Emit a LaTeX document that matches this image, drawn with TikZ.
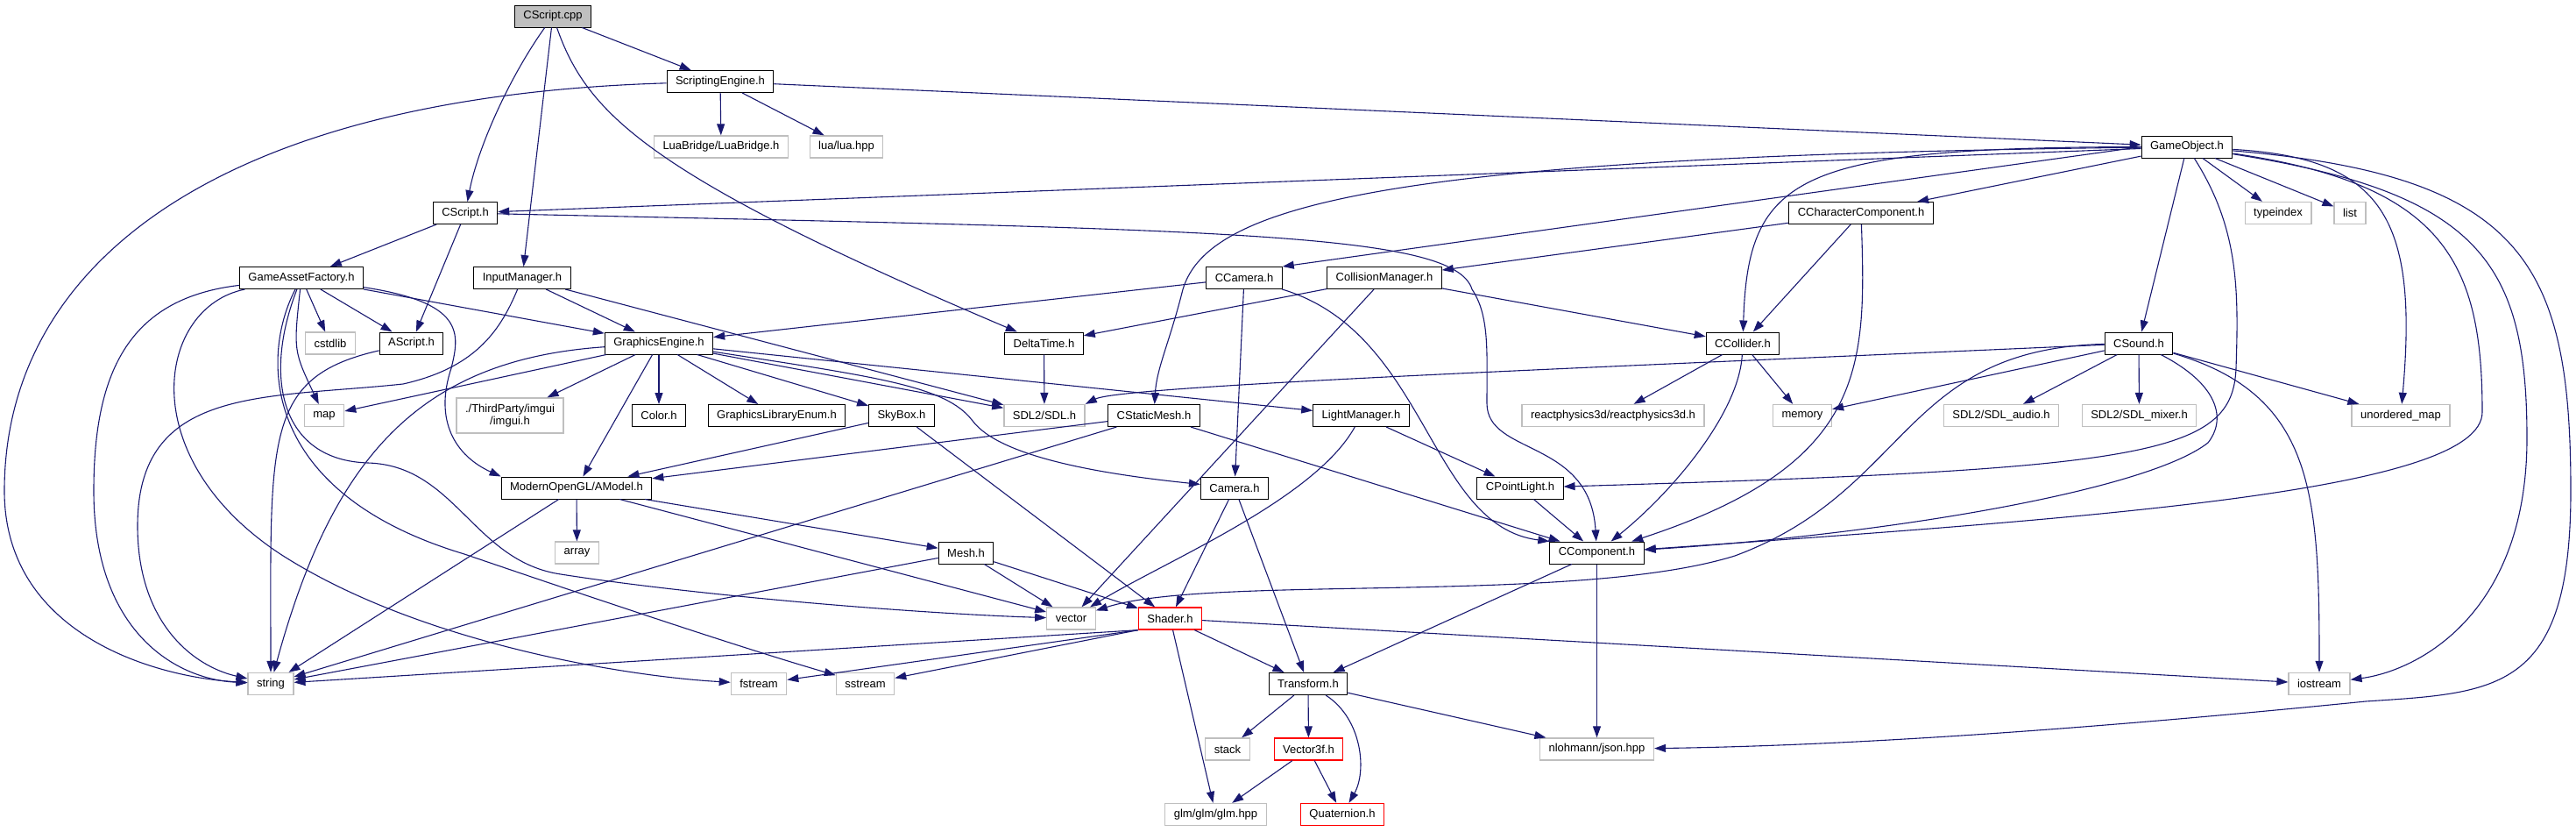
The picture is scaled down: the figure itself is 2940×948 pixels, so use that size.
\documentclass[tikz,border=0pt]{standalone}
\usepackage{fontspec}
\setmainfont{Liberation Sans}
\usetikzlibrary{arrows.meta}
\definecolor{edgeblue}{HTML}{191970}
\definecolor{extgray}{HTML}{BFBFBF}

\begin{document}
\begin{tikzpicture}[x=1pt,y=-1pt,font=\fontsize{13}{14}\selectfont,
  box/.style={draw=black,line width=1pt,minimum height=25pt,inner xsep=10pt,inner ysep=2pt,align=center},
  ext/.style={box,draw=extgray,line width=1.3pt},
  trunc/.style={box,draw=red,line width=1.3pt},
  dep/.style={draw=edgeblue,line width=1.1pt,-{Triangle[length=13pt,width=9pt]}}]
\useasboundingbox (0,0) rectangle (2940,948);
\node[box,fill=extgray] (cpp) at (631,18.5) {CScript.cpp};
\node[box] (sce) at (822,93) {ScriptingEngine.h};
\node[ext] (lbr) at (823,167.5) {LuaBridge/LuaBridge.h};
\node[ext] (lua) at (966,167.5) {lua/lua.hpp};
\node[box] (gob) at (2496,167.5) {GameObject.h};
\node[box] (csh) at (531,243) {CScript.h};
\node[box] (cch) at (2124,243) {CCharacterComponent.h};
\node[ext] (tix) at (2600,243) {typeindex};
\node[ext] (lst) at (2682,243) {list};
\node[box] (gaf) at (344,317) {GameAssetFactory.h};
\node[box] (inm) at (596,317) {InputManager.h};
\node[box] (cca) at (1420,317) {CCamera.h};
\node[box] (col) at (1580,317) {CollisionManager.h};
\node[ext] (cst) at (377,391.5) {cstdlib};
\node[box] (asc) at (469.5,391.5) {AScript.h};
\node[box] (gfx) at (752,391.5) {GraphicsEngine.h};
\node[box] (dlt) at (1191.5,391.5) {DeltaTime.h};
\node[box] (ccl) at (1989,391.5) {CCollider.h};
\node[box] (snd) at (2441,391.5) {CSound.h};
\node[ext] (map) at (370,474) {map};
\node[ext,minimum height=40pt] (img) at (582,474) {./ThirdParty/imgui\\/imgui.h};
\node[box] (clr) at (752,474) {Color.h};
\node[box] (gle) at (886.5,474) {GraphicsLibraryEnum.h};
\node[box] (sky) at (1029,474) {SkyBox.h};
\node[ext] (sdl) at (1192,474) {SDL2/SDL.h};
\node[box] (csm) at (1317,474) {CStaticMesh.h};
\node[box] (lgt) at (1553.5,474) {LightManager.h};
\node[ext] (rp3) at (1841,474) {reactphysics3d/reactphysics3d.h};
\node[ext] (mem) at (2057,474) {memory};
\node[ext] (sau) at (2284,474) {SDL2/SDL\_audio.h};
\node[ext] (smx) at (2441.5,474) {SDL2/SDL\_mixer.h};
\node[ext] (umap) at (2740,474) {unordered\_map};
\node[box] (amd) at (658,556.5) {ModernOpenGL/AModel.h};
\node[box] (cam) at (1409,556.5) {Camera.h};
\node[box] (cpl) at (1735,556.5) {CPointLight.h};
\node[ext] (arr) at (658.5,630.5) {array};
\node[box] (msh) at (1102.5,630.5) {Mesh.h};
\node[box] (ccp) at (1822.5,630.5) {CComponent.h};
\node[ext] (vec) at (1222.5,705.5) {vector};
\node[trunc] (shd) at (1335.5,705.5) {Shader.h};
\node[ext] (str) at (309,780) {string};
\node[ext] (fst) at (866,780) {fstream};
\node[ext] (sst) at (987.5,780) {sstream};
\node[box] (trf) at (1493,780) {Transform.h};
\node[ext] (ios) at (2647,780) {iostream};
\node[ext] (stk) at (1401,854.5) {stack};
\node[trunc] (v3f) at (1493.5,854.5) {Vector3f.h};
\node[ext] (jsn) at (1822.5,854.5) {nlohmann/json.hpp};
\node[ext] (glm) at (1387.5,929) {glm/glm/glm.hpp};
\node[trunc] (qtn) at (1532,929) {Quaternion.h};
\foreach \n in {sce,inm} \draw[dep] (cpp)--(\n);
\foreach \n in {lbr,lua,gob} \draw[dep] (sce)--(\n);
\foreach \n in {csh,cch,tix,lst,snd} \draw[dep] (gob)--(\n);
\draw[dep] (gob.west)--(cca.north east);
\foreach \n in {gaf,asc} \draw[dep] (csh)--(\n);
\foreach \n in {cst,asc,gfx} \draw[dep] (gaf)--(\n);
\foreach \n in {gfx,sdl} \draw[dep] (inm)--(\n);
\foreach \n in {map,img,clr,gle,sky,sdl,lgt,amd} \draw[dep] (gfx)--(\n);
\foreach \n in {gfx,cam} \draw[dep] (cca)--(\n);
\foreach \n in {col,ccl} \draw[dep] (cch)--(\n);
\foreach \n in {dlt,ccl,vec} \draw[dep] (col)--(\n);
\draw[dep] (dlt)--(sdl);
\foreach \n in {rp3,mem} \draw[dep] (ccl)--(\n);
\foreach \n in {mem,sau,smx,umap} \draw[dep] (snd)--(\n);
\foreach \n in {amd,str,ccp} \draw[dep] (csm)--(\n);
\draw[dep] (lgt)--(cpl);
\foreach \n in {amd,shd} \draw[dep] (sky)--(\n);
\foreach \n in {arr,msh,vec,str} \draw[dep] (amd)--(\n);
\foreach \n in {shd,trf} \draw[dep] (cam)--(\n);
\draw[dep] (cpl)--(ccp);
\foreach \n in {vec,shd,str} \draw[dep] (msh)--(\n);
\foreach \n in {trf,jsn} \draw[dep] (ccp)--(\n);
\foreach \n in {str,fst,sst} \draw[dep] (shd.south west)--(\n);
\foreach \n in {ios,trf,glm} \draw[dep] (shd)--(\n);
\foreach \n in {stk,v3f,jsn} \draw[dep] (trf)--(\n);
\foreach \n in {glm,qtn} \draw[dep] (v3f)--(\n);
\draw[dep] (cpp) .. controls (580,90) and (545,170) .. (csh);
\draw[dep] (cpp) .. controls (670,130) and (740,200) .. (dlt);
\draw[dep] (sce) .. controls (250,110) and (5,300) .. (5,560) .. controls (5,720) and (170,772) .. (str);
\draw[dep] (gob) .. controls (1600,178) and (1380,230) .. (1350,330) .. controls (1335,390) and (1320,420) .. (csm);
\draw[dep] (gob) .. controls (2050,168) and (1995,200) .. (ccl);
\draw[dep] (gob) .. controls (2555,260) and (2555,330) .. (2552,420) .. controls (2548,520) and (2450,535) .. (cpl);
\draw[dep] (gob) .. controls (2720,180) and (2760,250) .. (umap);
\draw[dep] (gob) .. controls (2790,210) and (2833,300) .. (2833,470) .. controls (2833,560) and (2400,590) .. (ccp);
\draw[dep] (gob) .. controls (2830,220) and (2884,300) .. (2884,500) .. controls (2884,700) and (2760,765) .. (ios);
\draw[dep] (gob) .. controls (2880,200) and (2934,300) .. (2934,560) .. controls (2934,790) and (2850,790) .. (2700,800) .. controls (2450,825) and (2150,850) .. (jsn);
\draw[dep] (csh) .. controls (1400,262) and (1660,265) .. (1680,330) .. controls (1700,360) and (1697,400) .. (1697,460) .. controls (1697,520) and (1815,500) .. (ccp);
\draw[dep] (gaf) .. controls (335,400) .. (map);
\draw[dep] (gaf) .. controls (530,345) and (525,380) .. (515,420) .. controls (495,480) and (520,520) .. (amd.north west);
\draw[dep] (gaf) .. controls (150,340) and (107,420) .. (107,560) .. controls (107,720) and (200,775) .. (str);
\draw[dep] (gaf) .. controls (180,350) and (150,520) .. (320,632) .. controls (480,735) and (720,772) .. (fst);
\draw[dep] (gaf) .. controls (300,400) and (290,560) .. (530,632) .. controls (700,690) and (850,740) .. (sst);
\draw[dep] (gaf) .. controls (300,430) and (320,525) .. (420,528) .. controls (520,531) and (540,640) .. (640,655) .. controls (800,680) and (1050,700) .. (vec);
\draw[dep] (inm) .. controls (570,380) and (540,420) .. (460,438) .. controls (300,455) and (157,440) .. (157,600) .. controls (157,710) and (220,760) .. (str);
\draw[dep] (asc) .. controls (300,430) and (309,500) .. (str);
\draw[dep] (gfx) .. controls (480,410) and (380,520) .. (str);
\draw[dep] (gfx) .. controls (1000,430) and (1080,440) .. (1110,480) .. controls (1140,520) and (1250,540) .. (cam);
\draw[dep] (cca) .. controls (1630,380) and (1630,600) .. (ccp.north west);
\draw[dep] (cch) .. controls (2130,420) and (2130,530) .. (ccp);
\draw[dep] (ccl) .. controls (1985,470) and (1910,560) .. (ccp);
\draw[dep] (snd) .. controls (1800,420) and (1280,440) .. (sdl.north east);
\draw[dep] (snd) .. controls (2640,450) and (2647,560) .. (ios);
\draw[dep] (snd) .. controls (2535,440) and (2540,480) .. (2520,505) .. controls (2450,560) and (2150,610) .. (ccp);
\draw[dep] (snd) .. controls (2170,398) and (2180,560) .. (1980,634) .. controls (1800,690) and (1380,655) .. (vec);
\draw[dep] (lgt) .. controls (1500,570) and (1330,640) .. (vec);
\draw[dep] (trf) .. controls (1555,820) and (1560,880) .. (qtn);
\end{tikzpicture}
\end{document}
